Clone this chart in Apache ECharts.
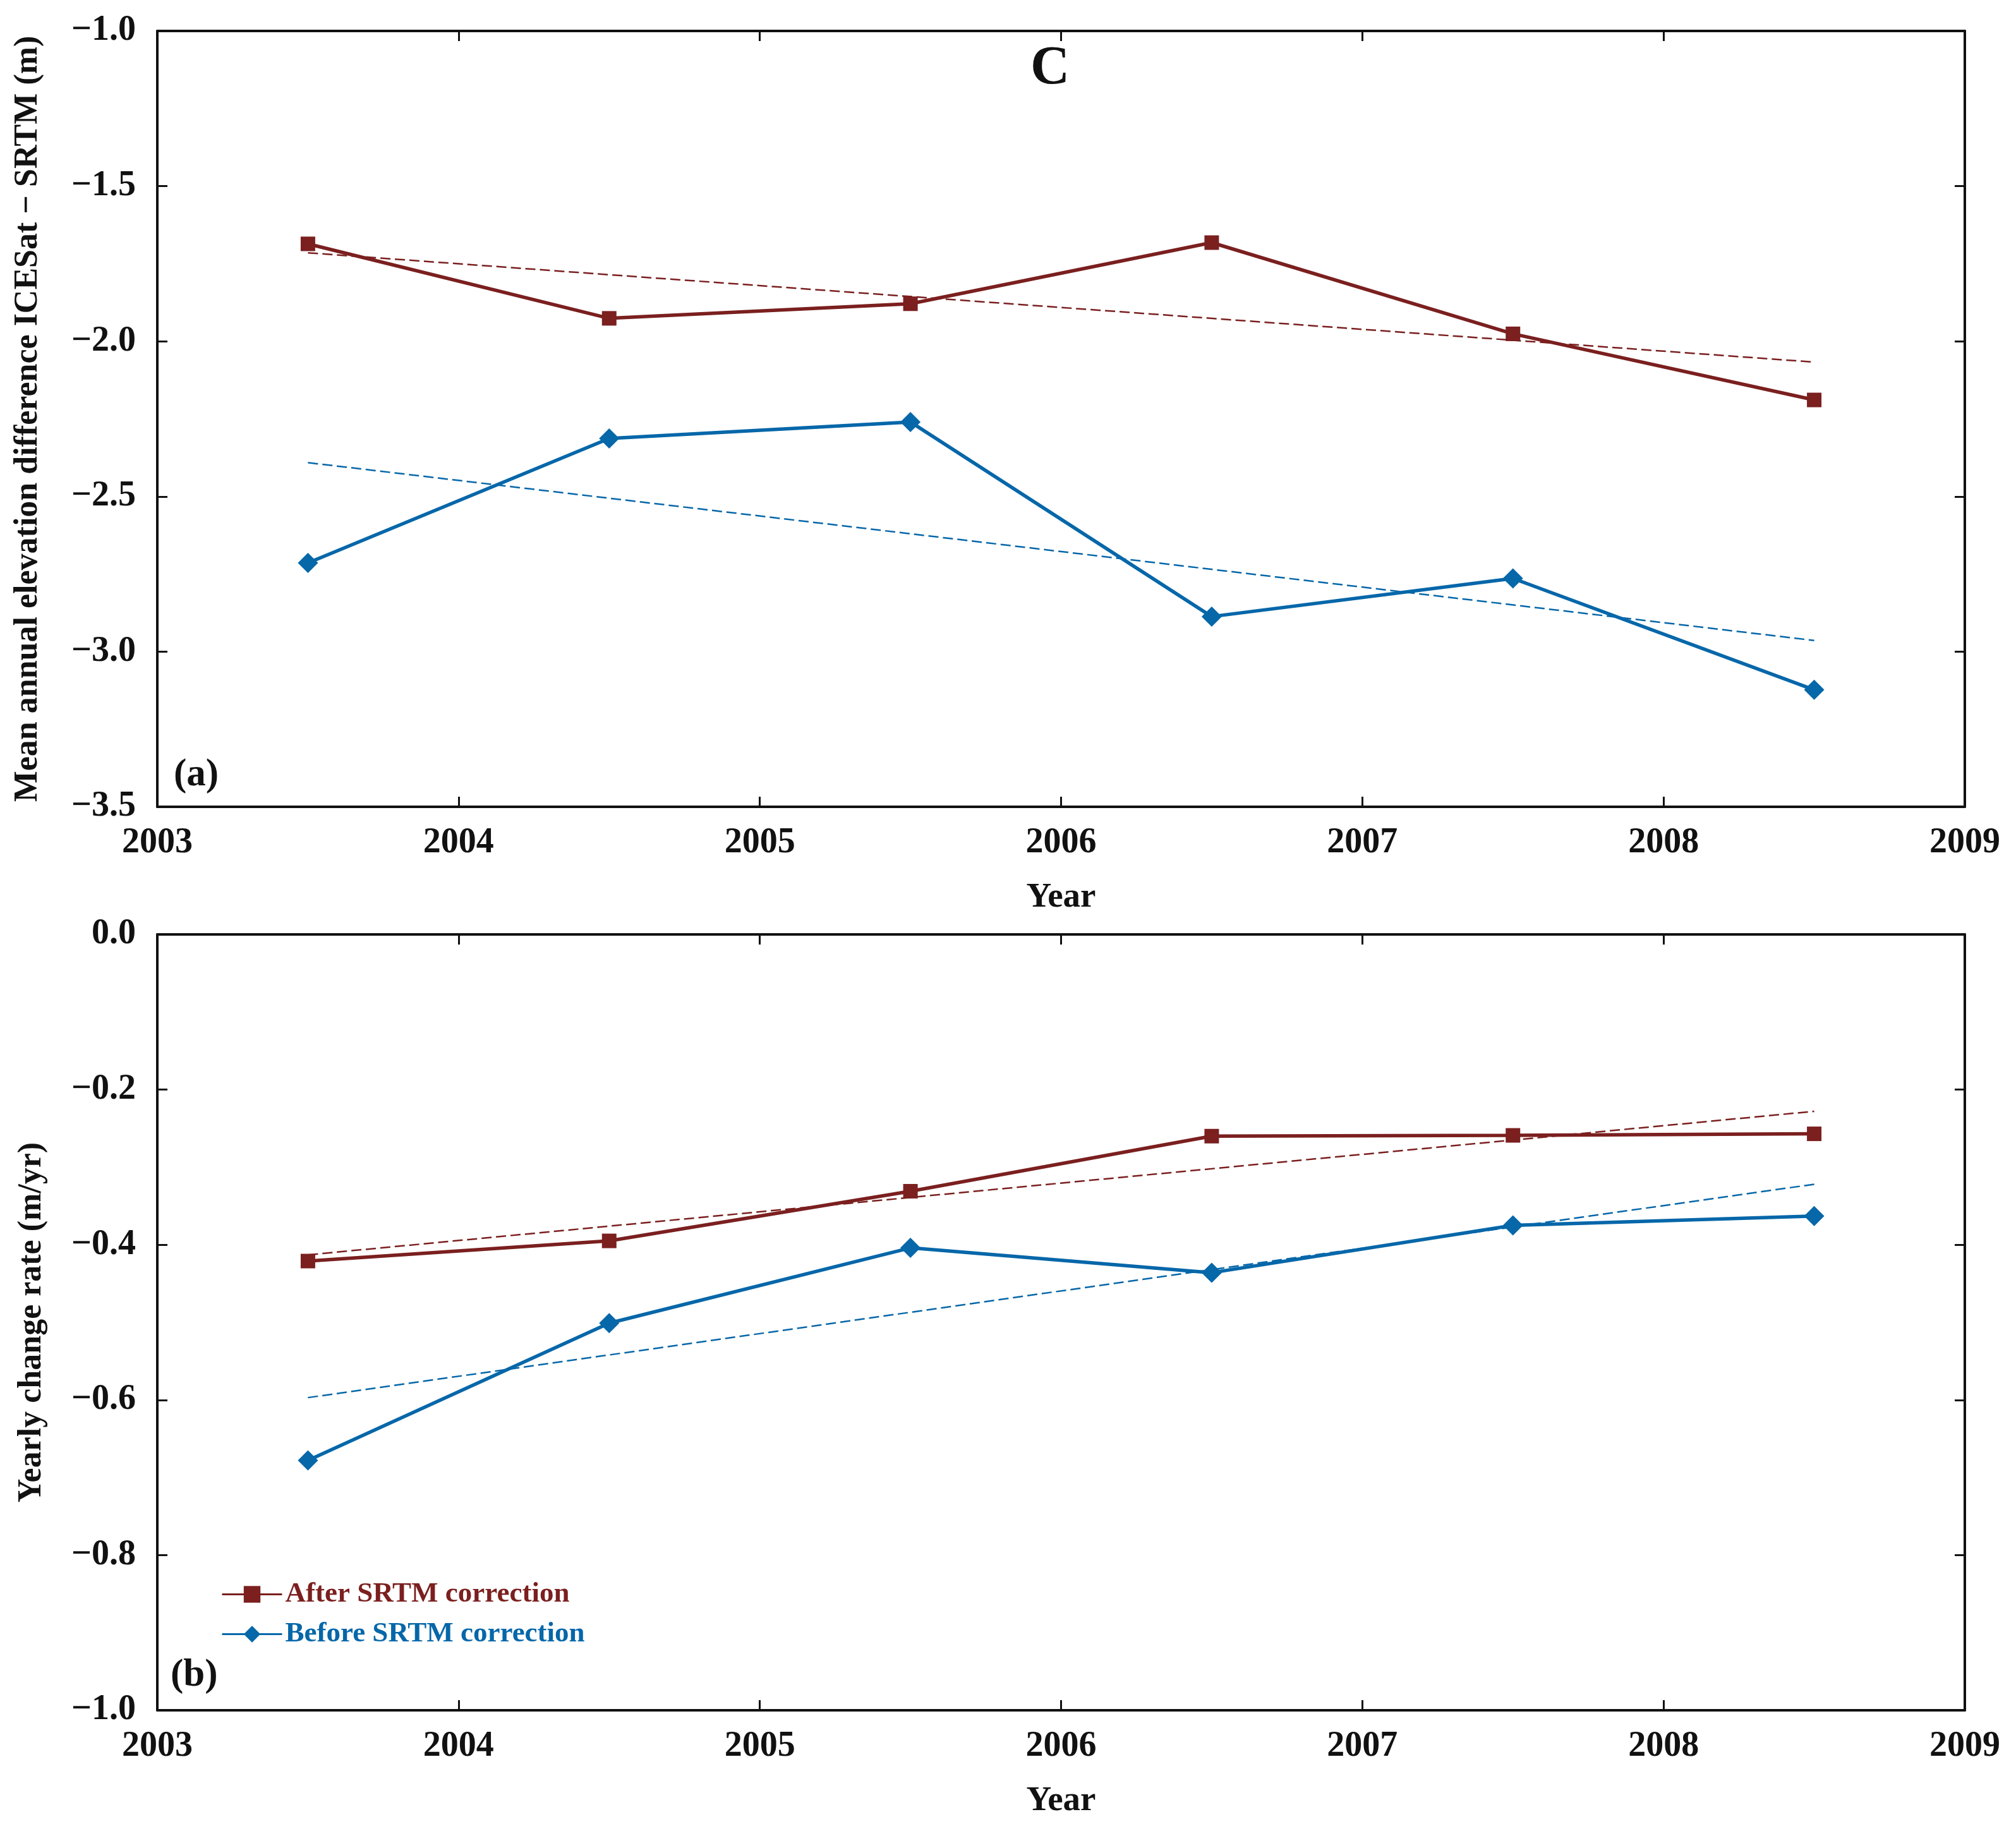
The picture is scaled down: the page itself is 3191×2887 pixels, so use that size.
<!DOCTYPE html>
<html>
<head>
<meta charset="utf-8">
<script src="https://cdn.jsdelivr.net/npm/echarts@6/dist/echarts.min.js"></script>
<style>
  html, body { margin: 0; padding: 0; background: #fff; }
  #chart { width: 3191px; height: 2887px; }
</style>
</head>
<body>
<div id="chart"></div>
<script>
// values
var years = [2003.5, 2004.5, 2005.5, 2006.5, 2007.5, 2008.5];
var trendYears = [2003.5, 2008.5];

// (a) mean annual elevation difference ICESat - SRTM (m)
var diffAfter = [-1.686, -1.926, -1.879, -1.682, -1.976, -2.189];
var diffBefore = [-2.714, -2.313, -2.260, -2.887, -2.764, -3.123];
var diffAfterTrend = [-1.715, -2.067];
var diffBeforeTrend = [-2.391, -2.964];

// (b) yearly change rate (m/yr)
var rateAfter = [-0.421, -0.395, -0.331, -0.260, -0.259, -0.257];
var rateBefore = [-0.678, -0.501, -0.404, -0.436, -0.375, -0.363];
var rateAfterTrend = [-0.413, -0.228];
var rateBeforeTrend = [-0.597, -0.322];

var xTicks = [2003, 2009, 1];
var diffTicks = [-3.5, -1.0, 0.5];
var rateTicks = [-1.0, 0.0, 0.2];

var RED = '#7b1f1f';
var BLUE = '#0667a9';
var INK = '#111111';
var FONT = 'Liberation Serif';

function pairs(xs, ys) {
    return xs.map(function(x, i) { return [x, ys[i]]; });
}

function minus(v) {
    return String(v).replace('-', '\u2212');
}

function xAxis(grid, top) {
    return {
        type: 'value', gridIndex: grid, position: top ? 'top' : 'bottom',
        min: xTicks[0], max: xTicks[1], interval: xTicks[2],
        name: top ? '' : 'Year', nameLocation: 'middle', nameGap: 116,
        nameTextStyle: {fontFamily: FONT, fontWeight: 'bold', fontSize: 55, color: INK},
        axisLine: {show: true, onZero: false, lineStyle: {color: INK, width: 4}},
        axisTick: {show: true, inside: true, length: 16, lineStyle: {color: INK, width: 3}},
        axisLabel: {
            show: !top, margin: 30, fontFamily: FONT, fontWeight: 'bold', fontSize: 56, color: INK,
            formatter: function(v) { return String(v); }
        },
        splitLine: {show: false}
    };
}

function yAxis(grid, right, ticks, name, gap) {
    return {
        type: 'value', gridIndex: grid, position: right ? 'right' : 'left',
        min: ticks[0], max: ticks[1], interval: ticks[2],
        name: right ? '' : name, nameLocation: 'middle', nameGap: gap, nameRotate: 90,
        nameTextStyle: {fontFamily: FONT, fontWeight: 'bold', fontSize: 52, color: INK},
        axisLine: {show: true, onZero: false, lineStyle: {color: INK, width: 4}},
        axisTick: {show: true, inside: true, length: 16, lineStyle: {color: INK, width: 3}},
        axisLabel: {
            show: !right, margin: 34, fontFamily: FONT, fontWeight: 'bold', fontSize: 56, color: INK,
            formatter: function(v) { return minus(v.toFixed(1)); }
        },
        splitLine: {show: false}
    };
}

function mainLine(name, grid, ys, color, symbol, size) {
    return {
        name: name, type: 'line', xAxisIndex: grid * 2, yAxisIndex: grid * 2,
        data: pairs(years, ys),
        symbol: symbol, symbolSize: size, showSymbol: true,
        lineStyle: {color: color, width: 5.5},
        itemStyle: {color: color},
        z: 3
    };
}

function trendLine(name, grid, ys, color) {
    return {
        name: name, type: 'line', xAxisIndex: grid * 2, yAxisIndex: grid * 2,
        data: pairs(trendYears, ys),
        symbol: 'none', silent: true,
        lineStyle: {color: color, width: 2.5, type: [16, 7]},
        z: 2
    };
}

var chart = echarts.init(document.getElementById('chart'));
chart.setOption({
    backgroundColor: '#ffffff',
    animation: false,
    title: [
        {text: 'C', left: 1657, top: 62, textAlign: 'center',
         textStyle: {fontFamily: FONT, fontWeight: 'bold', fontSize: 86, color: INK}},
        {text: '(a)', left: 270, top: 1192,
         textStyle: {fontFamily: FONT, fontWeight: 'bold', fontSize: 61, color: INK}},
        {text: '(b)', left: 265, top: 2617,
         textStyle: {fontFamily: FONT, fontWeight: 'bold', fontSize: 61, color: INK}}
    ],
    legend: {
        orient: 'vertical', left: 345, top: 2496,
        itemWidth: 95, itemHeight: 33, itemGap: 18,
        lineStyle: {width: 3},
        textStyle: {fontFamily: FONT, fontWeight: 'bold', fontSize: 45},
        data: [
            {name: 'After SRTM correction', textStyle: {color: RED}},
            {name: 'Before SRTM correction', textStyle: {color: BLUE}}
        ]
    },
    grid: [
        {left: 249, right: 81, top: 49, height: 1228},
        {left: 249, right: 81, top: 1479, height: 1228}
    ],
    xAxis: [xAxis(0, false), xAxis(0, true), xAxis(1, false), xAxis(1, true)],
    yAxis: [
        yAxis(0, false, diffTicks, 'Mean annual elevation difference ICESat \u2212 SRTM (m)', 178),
        yAxis(0, true, diffTicks, '', 0),
        yAxis(1, false, rateTicks, 'Yearly change rate (m/yr)', 172),
        yAxis(1, true, rateTicks, '', 0)
    ],
    series: [
        trendLine('After trend (a)', 0, diffAfterTrend, RED),
        trendLine('Before trend (a)', 0, diffBeforeTrend, BLUE),
        mainLine('After SRTM correction', 0, diffAfter, RED, 'rect', 23),
        mainLine('Before SRTM correction', 0, diffBefore, BLUE, 'diamond', 32),
        trendLine('After trend (b)', 1, rateAfterTrend, RED),
        trendLine('Before trend (b)', 1, rateBeforeTrend, BLUE),
        mainLine('After SRTM correction', 1, rateAfter, RED, 'rect', 23),
        mainLine('Before SRTM correction', 1, rateBefore, BLUE, 'diamond', 32)
    ]
});
</script>
</body>
</html>
